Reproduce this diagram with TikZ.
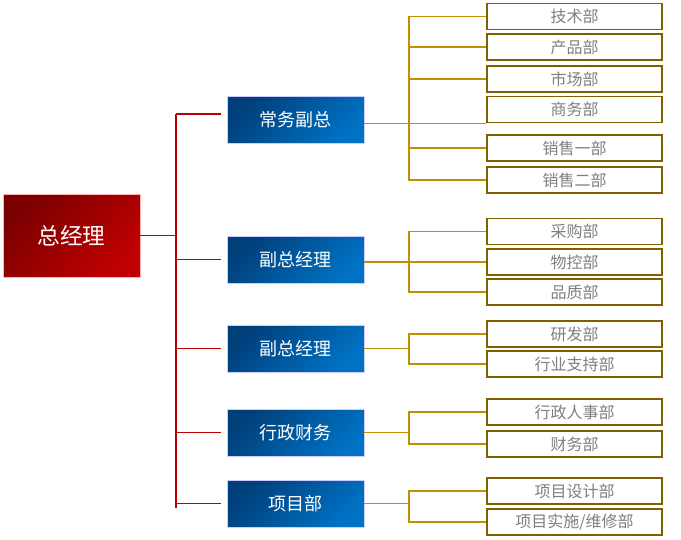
\documentclass[tikz,border=0pt]{standalone}
\usepackage{fontspec}
\setmainfont{Noto Sans CJK SC}
\definecolor{redline}{HTML}{C00000}
\definecolor{reddark}{HTML}{7A0000}
\definecolor{bluedark}{HTML}{003F7A}
\definecolor{bluelight}{HTML}{0072C4}
\definecolor{goldline}{HTML}{BF9000}
\definecolor{goldbox}{HTML}{7F6000}
\definecolor{deptgray}{HTML}{7F7F7F}
\tikzset{
  ceo/.style={draw=red!30, line width=0.4pt, left color=reddark, right color=redline, shading angle=45,
    minimum width=102.75pt, minimum height=62.25pt, text=white, font=\fontsize{17}{20}\selectfont},
  vp/.style={draw=blue!20, line width=0.4pt, left color=bluedark, right color=bluelight, shading angle=45,
    minimum width=102.75pt, minimum height=35.25pt, text=white, font=\fontsize{13.5}{16}\selectfont},
  dept/.style={draw=goldbox, line width=1.1pt, fill=white, minimum width=131.25pt, minimum height=19.5pt,
    text=deptgray, font=\fontsize{12}{14}\selectfont},
  rline/.style={draw=redline, line width=1pt},
  gline/.style={draw=goldline, line width=0.8pt}
}
\begin{document}
\begin{tikzpicture}[x=0.75pt, y=-0.75pt]
        \useasboundingbox (0,0) rectangle (681,539);

        % Draw the general manager
        \node[ceo] (zjl) at (71.5,235.5) {总经理};

        % Draw the deputies
        \node[vp] (cwfz) at (295.5,120) {常务副总};
        \node[vp] (fz1) at (295.5,259.5) {副总经理};
        \node[vp] (fz2) at (295.5,348.5) {副总经理};
        \node[vp] (xzcw) at (295.5,432.5) {行政财务};
        \node[vp] (xmb) at (295.5,503.5) {项目部};

        % Draw the departments
        \node[dept] (jsb) at (574.5,16.5) {技术部};
        \node[dept] (cpb) at (574.5,47) {产品部};
        \node[dept] (scb) at (574.5,79) {市场部};
        \node[dept] (swb) at (574.5,109.5) {商务部};
        \node[dept] (xs1) at (574.5,148) {销售一部};
        \node[dept] (xs2) at (574.5,180) {销售二部};

        \node[dept] (cgb) at (574.5,231.5) {采购部};
        \node[dept] (wkb) at (574.5,262) {物控部};
        \node[dept] (pzb) at (574.5,292) {品质部};

        \node[dept] (yfb) at (574.5,334) {研发部};
        \node[dept] (hyb) at (574.5,364) {行业支持部};

        \node[dept] (xzrs) at (574.5,412) {行政人事部};
        \node[dept] (cwb) at (574.5,444) {财务部};

        \node[dept] (xmsj) at (574.5,491) {项目设计部};
        \node[dept] (xmss) at (574.5,522) {项目实施/维修部};

        % Draw the red tree
        \coordinate (busR) at (176,0);
        \draw[rline] (zjl.east) -- (zjl.east -| busR);
        \draw[rline] ([yshift=4.5pt]cwfz.west -| busR) -- ([yshift=-3.4pt]xmb.west -| busR);
        \draw[rline] ([yshift=4.5pt]cwfz.west -| busR) -- ([xshift=-4.5pt,yshift=4.5pt]cwfz.west);
        \foreach \n in {fz1,fz2,xzcw,xmb}
          \draw[rline] (\n.west -| busR) -- ([xshift=-4.5pt]\n.west);

        % Draw the gold trees
        \coordinate (busG) at (409,0);
        \draw[gline] (cwfz.east |- swb.south west) -- (swb.south west);
        \draw[gline] (jsb.west) -- (jsb.west -| busG) -- (xs2.west -| busG) -- (xs2.west);
        \foreach \n in {cpb,scb,xs1}
          \draw[gline] (\n.west -| busG) -- (\n.west);

        \draw[gline] (fz1.east |- wkb.west) -- (wkb.west);
        \draw[gline] (cgb.west) -- (cgb.west -| busG) -- (pzb.west -| busG) -- (pzb.west);

        \draw[gline] (fz2.east) -- (fz2.east -| busG);
        \draw[gline] (yfb.west) -- (yfb.west -| busG) -- (hyb.west -| busG) -- (hyb.west);

        \draw[gline] (xzcw.east) -- (xzcw.east -| busG);
        \draw[gline] (xzrs.west) -- (xzrs.west -| busG) -- (cwb.west -| busG) -- (cwb.west);

        \draw[gline] (xmb.east) -- (xmb.east -| busG);
        \draw[gline] (xmsj.west) -- (xmsj.west -| busG) -- (xmss.west -| busG) -- (xmss.west);

\end{tikzpicture}
\end{document}
